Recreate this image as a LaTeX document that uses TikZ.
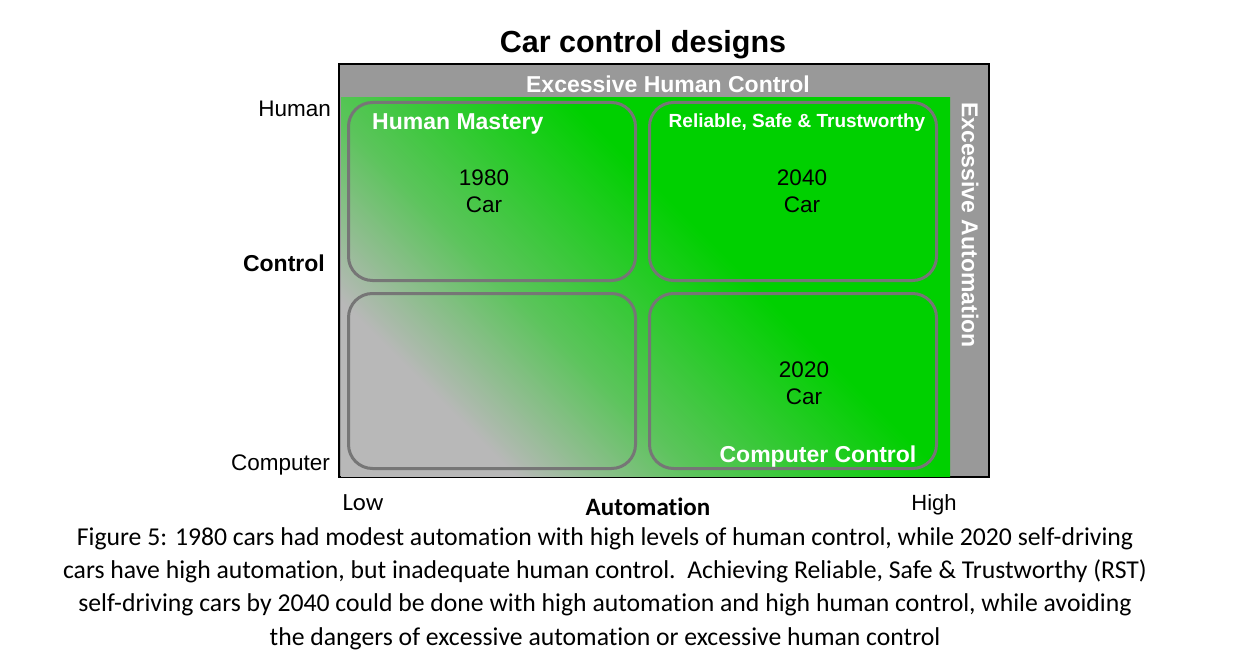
\documentclass[tikz,border=0pt]{standalone}
\usepackage{fontspec}
\setmainfont{Liberation Sans}
\newfontfamily\capfont{Carlito}[Ligatures = NoCommon]
\usetikzlibrary{positioning}

\definecolor{frameGray}{RGB}{153,153,153}
\definecolor{softGray}{RGB}{184,184,184}
\definecolor{ctlGreen}{RGB}{0,208,0}
\definecolor{edgeGray}{RGB}{118,118,118}
\colorlet{halfGreen}{ctlGreen!50!softGray}

\pgfdeclareverticalshading{grayToGreen}{100bp}{color(0bp)=(softGray); color(27bp)=(softGray); color(40bp)=(halfGreen); color(58bp)=(ctlGreen); color(100bp)=(ctlGreen)}

\begin{document}
\begin{tikzpicture}[
        x = 1pt, y = -1pt,
        quadrant/.style = {draw = edgeGray, line width = 3pt, rounded corners = 24pt, minimum width = 287pt, minimum height = 178pt},
        plain/.style = {font = \fontsize{22.5}{27}\selectfont, align = center, inner sep = 0pt},
        heavy/.style = {font = \bfseries\fontsize{23}{27}\selectfont, inner sep = 0pt},
        banner/.style = {heavy, text = white}
    ]

    \useasboundingbox[fill = white] (0,0) rectangle (1233,658);

    % frame and colour field
    \draw[fill = frameGray, line width = 2.5pt] (339,64) rectangle (989,477);
    \shade[shading = grayToGreen, shading angle = -45] (341,98) rectangle (950,476);

    \node[heavy, font = \bfseries\fontsize{30.5}{34}\selectfont] (title) at (643,45) {Car control designs};
    \node[banner] (toomuchhuman) at (668,84) {Excessive Human Control};
    \node[banner, rotate = -90] (toomuchauto) at (970,225) {Excessive Automation};

    % the four quadrants
    \node[quadrant] (mastery) at (492,191.5) {};
    \node[quadrant] (rst) [right = 11pt of mastery] {};
    \node[quadrant, minimum height = 175pt] (manual) [below = 10pt of mastery] {};
    \node[quadrant, minimum height = 175pt] (computer) [below = 10pt of rst] {};

    \node[banner, anchor = west] (masterylabel) at (372,124) {Human Mastery};
    \node[banner, font = \bfseries\fontsize{19}{23}\selectfont] (rstlabel) at (797,123) {Reliable, Safe \& Trustworthy};
    \node[banner] (computerlabel) at (818,457) {Computer Control};

    \node[plain] (car1980) at (484,191.5) {1980\\Car};
    \node[plain] (car2040) at (802,191.5) {2040\\Car};
    \node[plain] (car2020) at (804,383) {2020\\Car};

    % axes
    \node[plain, anchor = east] (human) at (331,109) {Human};
    \node[heavy, anchor = east] (control) at (325,263) {Control};
    \node[plain, anchor = east] (computerend) at (330,465) {Computer};
    \node[plain, font = \capfont\fontsize{24.7}{28}\selectfont] (low) at (363,503) {Low};
    \node[plain, font = \capfont\bfseries\fontsize{25}{28}\selectfont] (automation) at (648,507) {Automation};
    \node[plain, font = \fontsize{22}{26}\selectfont] (high) at (934,505) {High};

    \node[plain, anchor = north, font = \capfont\fontsize{25.7}{33.4}\selectfont] (caption) at (605,527)
        {Figure 5: 1980 cars had modest automation with high levels of human control, while 2020 self-driving\\
         cars have high automation, but inadequate human control.\ \ Achieving Reliable, Safe \& Trustworthy (RST)\\
         self-driving cars by 2040 could be done with high automation and high human control, while avoiding\\
         the dangers of excessive automation or excessive human control};

\end{tikzpicture}
\end{document}
